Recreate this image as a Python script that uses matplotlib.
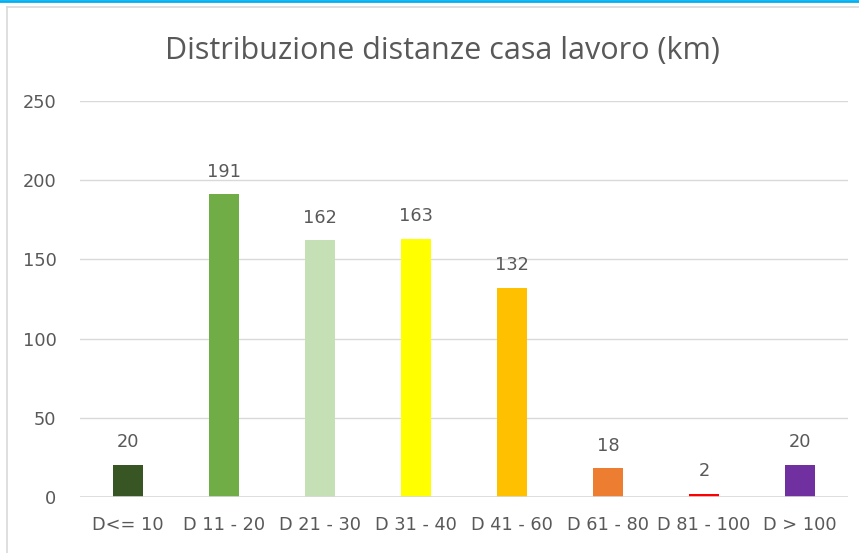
import matplotlib
matplotlib.use("Agg")
import matplotlib.pyplot as plt
from matplotlib.lines import Line2D

categories = ["D<= 10", "D 11 - 20", "D 21 - 30", "D 31 - 40", "D 41 - 60", "D 61 - 80", "D 81 - 100", "D > 100"]
values = [20, 191, 162, 163, 132, 18, 2, 20]
colors = ["#375623", "#70AD47", "#C5E0B4", "#FFFF00", "#FFC000", "#ED7D31", "#FF0000", "#7030A0"]
yticks = [0, 50, 100, 150, 200, 250]
title = "Distribuzione distanze casa lavoro (km)"

plt.rcParams['font.family'] = ['DejaVu Sans']
txt = "#595959"
fs = 12.8

fig = plt.figure(figsize=(8.59, 5.53), dpi=100)
ax = fig.add_axes([80/859, 56/553, 768/859, 396/553])

x = list(range(len(categories)))
ax.bar(x, values, width=0.32, color=colors, zorder=3)
for xi, v in zip(x, values):
    ax.annotate(str(v), (xi, v), xytext=(0, 10), textcoords="offset points",
                ha="center", va="bottom", fontsize=fs, color=txt)

ax.set_xlim(-0.5, 7.5)
ax.set_ylim(0, 250)
ax.set_yticks(yticks)
ax.set_xticks(x)
ax.set_xticklabels(categories)
ax.tick_params(axis="both", length=0, labelsize=fs, labelcolor=txt)
ax.tick_params(axis="y", pad=17)
ax.tick_params(axis="x", pad=14)
ax.grid(axis="y", color="#D9D9D9", linewidth=1, zorder=0)
for s in ax.spines.values():
    s.set_visible(False)
ax.axhline(0, color="#D9D9D9", linewidth=1.2, zorder=4)

fig.text(442/859, 1 - 51/553, title, ha="center", va="center", fontsize=22,
         color=txt, family=['Open Sans', 'DejaVu Sans'])

# chart frame and top blue line
fig.add_artist(Line2D([7/859, 7/859], [0, 1 - 7/553], color="#D9D9D9", linewidth=1.2, transform=fig.transFigure))
fig.add_artist(Line2D([7/859, 1], [1 - 7/553, 1 - 7/553], color="#D9D9D9", linewidth=1.2, transform=fig.transFigure))
fig.add_artist(Line2D([0, 1], [1 - 1/553, 1 - 1/553], color="#00B0F0", linewidth=2, transform=fig.transFigure))

fig.savefig("out.png", dpi=100)
